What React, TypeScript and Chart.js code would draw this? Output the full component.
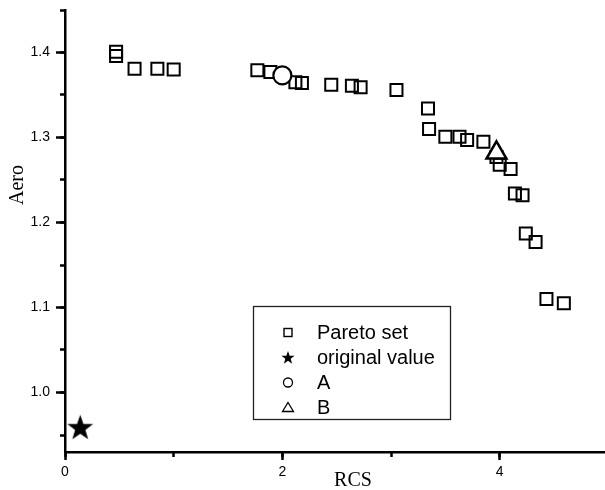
import React, { useEffect, useRef } from 'react';
import { Chart, registerables } from 'chart.js';

Chart.register(...registerables);

// ---- data ----
const paretoX = [0.47, 0.47, 0.64, 0.85, 1.0, 1.77, 1.89, 2.12, 2.18, 2.45, 2.64, 2.72, 3.05, 3.34, 3.35, 3.5, 3.63, 3.7, 3.85, 3.97, 4.0, 4.1, 4.14, 4.21, 4.24, 4.33, 4.43, 4.59];
const paretoY = [1.401, 1.396, 1.381, 1.381, 1.38, 1.379, 1.377, 1.365, 1.364, 1.362, 1.361, 1.359, 1.356, 1.334, 1.31, 1.301, 1.301, 1.297, 1.295, 1.277, 1.268, 1.263, 1.234, 1.232, 1.187, 1.177, 1.11, 1.105];
const originalX = [0.14];
const originalY = [0.958];
const pointAX = [2.0];
const pointAY = [1.373];
const pointBX = [3.97];
const pointBY = [1.282];
const seriesLabels = ['Pareto set', 'original value', 'A', 'B'];
const xMajorTicks = [0, 2, 4];
const xMinorTicks = [0, 1, 2, 3, 4, 5];
const yMajorTicks = [1.0, 1.1, 1.2, 1.3, 1.4];
const yMinorTicks = [0.95, 1.0, 1.05, 1.1, 1.15, 1.2, 1.25, 1.3, 1.35, 1.4, 1.45];
const xTitle = 'RCS';
const yTitle = 'Aero';

const X_MIN = 0, X_MAX = 5.3, Y_MIN = 0.93, Y_MAX = 1.45;

function toPoints(xs: number[], ys: number[]) {
  return xs.map((x, i) => ({ x, y: ys[i] }));
}

function starPath(ctx: CanvasRenderingContext2D, cx: number, cy: number, outer: number, inner: number) {
  ctx.beginPath();
  for (let i = 0; i < 10; i++) {
    const r = i % 2 ? inner : outer;
    const a = -Math.PI / 2 + (i * Math.PI) / 5;
    const px = cx + r * Math.cos(a);
    const py = cy + r * Math.sin(a);
    if (i === 0) ctx.moveTo(px, py); else ctx.lineTo(px, py);
  }
  ctx.closePath();
}

function makeStar(outer: number) {
  const size = Math.ceil(outer * 2 + 4);
  const c = document.createElement('canvas');
  c.width = size;
  c.height = size;
  const ctx = c.getContext('2d')!;
  starPath(ctx, size / 2, size / 2, outer, outer * 0.40);
  ctx.fillStyle = '#000';
  ctx.fill();
  return c;
}

const SANS = '"Liberation Sans", Arial, Helvetica, sans-serif';
const SERIF = '"Liberation Serif", "Times New Roman", serif';

const axisTitlePlugin = {
  id: 'axisTitles',
  afterDraw(chart: any) {
    const ctx = chart.ctx as CanvasRenderingContext2D;
    const area = chart.chartArea;
    ctx.save();
    ctx.fillStyle = '#000';
    ctx.font = `20px ${SERIF}`;
    ctx.textAlign = 'center';
    ctx.textBaseline = 'alphabetic';
    ctx.fillText(xTitle, (area.left + area.right) / 2, area.bottom + 34);
    ctx.translate(area.left - 42, area.top + 175);
    ctx.rotate(-Math.PI / 2);
    ctx.fillText(yTitle, 0, 0);
    ctx.restore();
  },
};

const boxLegendPlugin = {
  id: 'boxLegend',
  afterDraw(chart: any) {
    const ctx = chart.ctx as CanvasRenderingContext2D;
    const area = chart.chartArea;
    const bx = area.left + 188;
    const by = area.top + 296;
    const bw = 197;
    const bh = 113;
    ctx.save();
    ctx.strokeStyle = '#222';
    ctx.lineWidth = 1.3;
    ctx.strokeRect(bx + 0.5, by + 0.5, bw, bh);
    const symX = bx + 35;
    const textX = bx + 64;
    ctx.font = `20px ${SANS}`;
    ctx.textAlign = 'left';
    ctx.textBaseline = 'alphabetic';
    seriesLabels.forEach((label, i) => {
      const base = by + 33 + i * 25;
      const cy = base - 6.5;
      ctx.strokeStyle = '#000';
      ctx.fillStyle = '#000';
      if (i === 0) {
        ctx.lineWidth = 1.4;
        ctx.strokeRect(symX - 4, cy - 4, 8, 8);
      } else if (i === 1) {
        starPath(ctx, symX, cy + 0.5, 7, 2.8);
        ctx.fill();
      } else if (i === 2) {
        ctx.lineWidth = 1.3;
        ctx.beginPath();
        ctx.arc(symX, cy, 4.5, 0, Math.PI * 2);
        ctx.stroke();
      } else {
        ctx.lineWidth = 1.3;
        ctx.beginPath();
        ctx.moveTo(symX, cy - 5);
        ctx.lineTo(symX + 5.5, cy + 4);
        ctx.lineTo(symX - 5.5, cy + 4);
        ctx.closePath();
        ctx.stroke();
      }
      ctx.fillStyle = '#000';
      ctx.fillText(label, textX, base);
    });
    ctx.restore();
  },
};

function tickSetter(values: number[]) {
  return (scale: any) => {
    scale.ticks = values.map((value) => ({ value }));
  };
}

function fixSize(dim: 'width' | 'height', size: number) {
  return (s: any) => {
    s[dim] = size;
    s.paddingTop = 0;
    s.paddingBottom = 0;
    s.paddingLeft = 0;
    s.paddingRight = 0;
  };
}

export default function App() {
  const canvasRef = useRef<HTMLCanvasElement | null>(null);

  useEffect(() => {
    const canvas = canvasRef.current;
    if (!canvas) return;
    const star = makeStar(13.5);

    const tickFont = { family: SANS, size: 14 };

    const chart = new Chart(canvas, {
      type: 'scatter',
      data: {
        datasets: [
          {
            label: seriesLabels[0],
            data: toPoints(paretoX, paretoY),
            pointStyle: 'rect',
            pointRadius: 8.5,
            borderWidth: 2,
            borderColor: '#000',
            backgroundColor: 'rgba(0,0,0,0)',
            order: 2,
          },
          {
            label: seriesLabels[1],
            data: toPoints(originalX, originalY),
            pointStyle: star,
            pointRadius: 13,
            borderColor: '#000',
            backgroundColor: '#000',
            order: 1,
          },
          {
            label: seriesLabels[2],
            data: toPoints(pointAX, pointAY),
            pointStyle: 'circle',
            pointRadius: 9,
            borderWidth: 2.2,
            borderColor: '#000',
            backgroundColor: '#fff',
            order: 1,
          },
          {
            label: seriesLabels[3],
            data: toPoints(pointBX, pointBY),
            pointStyle: 'triangle',
            pointRadius: 11.5,
            borderWidth: 2.5,
            borderColor: '#000',
            backgroundColor: '#fff',
            order: 1,
          },
        ],
      } as any,
      options: {
        animation: false,
        responsive: false,
        devicePixelRatio: 1,
        events: [],
        layout: { autoPadding: false, padding: { top: 10, right: 9, left: 0, bottom: 0 } },
        plugins: {
          legend: { display: false },
          tooltip: { enabled: false },
        },
        scales: {
          x: {
            type: 'linear',
            position: 'bottom',
            min: X_MIN,
            max: X_MAX,
            weight: 1,
            afterBuildTicks: tickSetter(xMajorTicks),
            afterFit: fixSize('height', 38),
            grid: { display: true, drawOnChartArea: false, drawTicks: true, tickLength: 8, tickWidth: 2.5, tickColor: '#000', color: '#000' },
            border: { display: true, color: '#000', width: 2.5 },
            ticks: { color: '#000', font: tickFont, padding: 4, maxRotation: 0, autoSkip: false, callback: (v: any) => String(Math.round(Number(v))) },
          },
          xMinor: {
            type: 'linear',
            position: 'bottom',
            min: X_MIN,
            max: X_MAX,
            weight: 0,
            afterBuildTicks: tickSetter(xMinorTicks),
            afterFit: fixSize('height', 0),
            grid: { display: true, drawOnChartArea: false, drawTicks: true, tickLength: 5, tickWidth: 2.5, tickColor: '#000', color: '#000' },
            border: { display: false },
            ticks: { display: false },
          },
          y: {
            type: 'linear',
            position: 'left',
            min: Y_MIN,
            max: Y_MAX,
            weight: 1,
            afterBuildTicks: tickSetter(yMajorTicks),
            afterFit: fixSize('width', 65),
            grid: { display: true, drawOnChartArea: false, drawTicks: true, tickLength: 9, tickWidth: 2.5, tickColor: '#000', color: '#000' },
            border: { display: true, color: '#000', width: 2.5 },
            ticks: { color: '#000', font: tickFont, padding: 6, autoSkip: false, callback: (v: any) => Number(v).toFixed(1) },
          },
          yMinor: {
            type: 'linear',
            position: 'left',
            min: Y_MIN,
            max: Y_MAX,
            weight: 0,
            afterBuildTicks: tickSetter(yMinorTicks),
            afterFit: fixSize('width', 0),
            grid: { display: true, drawOnChartArea: false, drawTicks: true, tickLength: 5, tickWidth: 2.5, tickColor: '#000', color: '#000' },
            border: { display: false },
            ticks: { display: false },
          },
        },
      } as any,
      plugins: [axisTitlePlugin, boxLegendPlugin],
    });

    return () => chart.destroy();
  }, []);

  return (
    <div style={{ position: 'fixed', left: 0, top: 0, width: 605, height: 490, overflow: 'hidden', background: '#fff' }}>
      <canvas ref={canvasRef} width={650} height={490} style={{ width: 650, height: 490, display: 'block' }} />
    </div>
  );
}
